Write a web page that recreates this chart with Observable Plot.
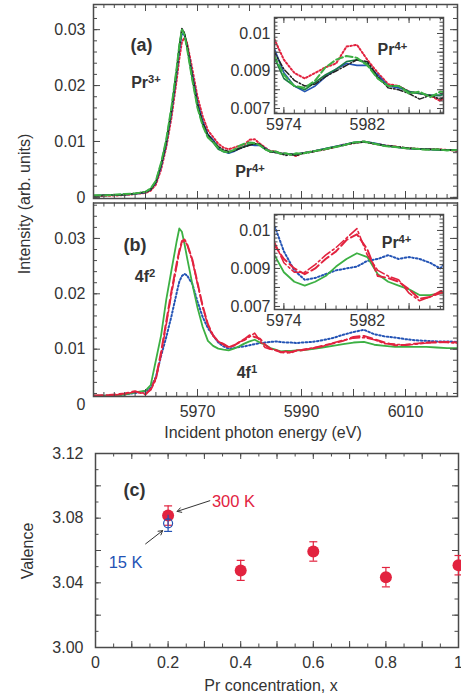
<!DOCTYPE html>
<html><head><meta charset="utf-8">
<script src="https://cdn.jsdelivr.net/npm/d3@7"></script>
<script src="https://cdn.jsdelivr.net/npm/@observablehq/plot@0.6"></script>
<style>
body{margin:0;background:#fff;}
#fig{position:relative;width:461px;height:698px;overflow:hidden;font-family:"Liberation Sans",Arial,Helvetica,sans-serif;color:#333;background:#fff;}
#fig svg{position:absolute;overflow:visible;}
.ttl{position:absolute;font-size:16px;line-height:1;color:#333;white-space:nowrap;transform:translate(-50%,-50%);}
.rot{transform:translate(-50%,-50%) rotate(-90deg);}
</style></head><body><div id="fig"></div><script>
// ================= DATA =================
const energy = [5950,5953,5956,5958,5960,5961,5962,5963,5964,5965,5966,5966.5,5967,5967.5,5968,5969,5970,5971,5972,
  5973,5974,5975,5976,5977,5978,5979,5980,5981,5982,5983,5984,5985,5986,5987,5988,5989,
  5990,5992,5994,5996,5998,6000,6002,6004,6006,6008,6010,6012,6014,6016,6018,6020];

// panel (a)
const aBlack = [0.0003,0.0004,0.0005,0.0007,0.0009,0.0014,0.0027,0.0057,0.0098,0.0155,0.0226,0.0268,0.0302,0.0294,0.0272,0.0218,0.0167,0.0134,0.0112,
  0.0101,0.0091,0.0085,0.0082,0.0083,0.0087,0.0090,0.0093,0.0096,0.0095,0.0087,0.0081,0.0080,0.0078,0.0075,0.0077,0.0075,
  0.0078,0.0081,0.0085,0.0089,0.0093,0.0097,0.0099,0.0096,0.0093,0.0091,0.0089,0.0087,0.0086,0.0086,0.0085,0.0084];
const aBlue = [0.0003,0.0004,0.0005,0.0006,0.0009,0.0014,0.0026,0.0055,0.0096,0.0152,0.0222,0.0262,0.0293,0.0290,0.0271,0.0220,0.0170,0.0136,0.0113,
  0.0103,0.0089,0.0082,0.0079,0.0082,0.0087,0.0091,0.0094,0.0093,0.0093,0.0088,0.0082,0.0081,0.0079,0.0078,0.0077,0.0077,
  0.0079,0.0082,0.0086,0.0090,0.0094,0.0098,0.0100,0.0097,0.0093,0.0090,0.0088,0.0086,0.0086,0.0085,0.0085,0.0084];
const aGreenDash = [0.0004,0.0004,0.0006,0.0007,0.0010,0.0016,0.0030,0.0062,0.0104,0.0162,0.0232,0.0272,0.0300,0.0291,0.0266,0.0210,0.0160,0.0128,0.0107,
  0.0099,0.0088,0.0082,0.0081,0.0085,0.0092,0.0096,0.0098,0.0097,0.0093,0.0086,0.0082,0.0082,0.0078,0.0079,0.0076,0.0079,
  0.0078,0.0082,0.0085,0.0089,0.0093,0.0098,0.0100,0.0096,0.0092,0.0090,0.0088,0.0087,0.0085,0.0086,0.0084,0.0085];
const aDarkGreen = [0.0003,0.0004,0.0005,0.0007,0.0010,0.0015,0.0029,0.0060,0.0102,0.0160,0.0230,0.0271,0.0301,0.0293,0.0268,0.0212,0.0162,0.0130,0.0108,
  0.0098,0.0086,0.0082,0.0080,0.0084,0.0088,0.0091,0.0095,0.0096,0.0094,0.0086,0.0082,0.0082,0.0079,0.0078,0.0077,0.0077,
  0.0079,0.0082,0.0086,0.0090,0.0093,0.0098,0.0100,0.0096,0.0092,0.0090,0.0088,0.0087,0.0086,0.0085,0.0085,0.0084];
const aRed = [0.0002,0.0003,0.0004,0.0006,0.0008,0.0012,0.0023,0.0050,0.0090,0.0143,0.0210,0.0248,0.0278,0.0286,0.0276,0.0230,0.0180,0.0145,0.0120,
  0.0108,0.0096,0.0089,0.0086,0.0089,0.0092,0.0094,0.0103,0.0104,0.0096,0.0089,0.0083,0.0082,0.0079,0.0078,0.0077,0.0074,
  0.0079,0.0082,0.0085,0.0089,0.0094,0.0097,0.0100,0.0096,0.0093,0.0091,0.0088,0.0087,0.0086,0.0086,0.0085,0.0083];

// panel (b)
const bGreen = [0.0016,0.0016,0.0018,0.0022,0.0025,0.0035,0.0080,0.0125,0.0190,0.0243,0.0295,0.0318,0.0312,0.0290,0.0265,0.0218,0.0175,0.0140,0.0115,
  0.0106,0.0101,0.0099,0.0098,0.0101,0.0105,0.0110,0.0114,0.0117,0.0112,0.0108,0.0102,0.0099,0.0096,0.0097,0.0097,0.0098,
  0.0098,0.0100,0.0103,0.0106,0.0109,0.0112,0.0113,0.0108,0.0106,0.0104,0.0104,0.0104,0.0104,0.0103,0.0102,0.0102];
const bRedDash = [0.0016,0.0017,0.0020,0.0024,0.0018,0.0028,0.0048,0.0095,0.0150,0.0205,0.0255,0.0278,0.0295,0.0298,0.0290,0.0262,0.0220,0.0178,0.0145,
  0.0125,0.0114,0.0108,0.0103,0.0107,0.0112,0.0118,0.0125,0.0122,0.0119,0.0108,0.0101,0.0098,0.0095,0.0093,0.0095,0.0097,
  0.0098,0.0101,0.0106,0.0110,0.0115,0.0122,0.0124,0.0118,0.0112,0.0107,0.0108,0.0110,0.0112,0.0112,0.0113,0.0112];
const bRedDashDot = [0.0016,0.0016,0.0019,0.0023,0.0020,0.0026,0.0045,0.0090,0.0145,0.0200,0.0250,0.0275,0.0292,0.0296,0.0289,0.0260,0.0218,0.0176,0.0143,
  0.0124,0.0114,0.0110,0.0104,0.0106,0.0113,0.0116,0.0122,0.0129,0.0115,0.0103,0.0100,0.0099,0.0094,0.0096,0.0093,0.0098,
  0.0099,0.0102,0.0105,0.0111,0.0116,0.0120,0.0121,0.0117,0.0110,0.0109,0.0107,0.0109,0.0111,0.0113,0.0112,0.0111];
const bBlue = [0.0016,0.0016,0.0018,0.0021,0.0024,0.0030,0.0050,0.0088,0.0122,0.0160,0.0202,0.0222,0.0232,0.0236,0.0233,0.0218,0.0186,0.0158,0.0138,
  0.0125,0.0112,0.0105,0.0101,0.0102,0.0104,0.0105,0.0107,0.0109,0.0111,0.0112,0.0113,0.0114,0.0113,0.0112,0.0112,0.0111,
  0.0112,0.0113,0.0116,0.0120,0.0126,0.0131,0.0135,0.0127,0.0123,0.0121,0.0118,0.0116,0.0115,0.0114,0.0114,0.0113];

// inset of (b), read on the inset's own axis
const insetEnergyB = [5973,5974,5975,5976,5977,5978,5979,5980,5981,5982,5983,5984,5985,5986,5987,5988,5989,5990];
const ibBlue = [0.0114,0.0099,0.0089,0.0084,0.0085,0.0087,0.0089,0.0090,0.0091,0.0094,0.0095,0.0097,0.0095,0.0096,0.0095,0.0093,0.0090,0.0097];
const ibGreen = [0.0098,0.0088,0.0083,0.0081,0.0083,0.0086,0.0091,0.0095,0.0098,0.0096,0.0087,0.0083,0.0081,0.0079,0.0076,0.0076,0.0077,0.0077];
const ibRedDash = [0.0103,0.0095,0.0090,0.0087,0.0090,0.0095,0.0099,0.0105,0.0108,0.0100,0.0086,0.0085,0.0083,0.0079,0.0074,0.0075,0.0078,0.0079];
const ibRedDashDot = [0.0105,0.0093,0.0088,0.0088,0.0092,0.0097,0.0101,0.0106,0.0111,0.0097,0.0089,0.0086,0.0084,0.0077,0.0073,0.0075,0.0077,0.0078];

// panel (c)
const concentration = [0.2, 0.4, 0.6, 0.8, 1.0];
const valence300K = [3.0816, 3.0477, 3.0594, 3.0435, 3.0509];
const err300K = [0.006, 0.0062, 0.006, 0.006, 0.006];
const conc15K = [0.2];
const valence15K = [3.0768];
const err15K = [0.005];

// tick labels
const mainYTicks = [0, 0.01, 0.02, 0.03];
const mainYTickText = ["0", "0.01", "0.02", "0.03"];
const mainXTicks = [5970, 5990, 6010];
const insetXTicks = [5974, 5982];
const insetYTicks = [0.007, 0.009, 0.011];
const insetYTickText = ["0.007", "0.009", "0.01"];
const cXTicks = [0, 0.2, 0.4, 0.6, 0.8, 1];
const cXTickText = ["0", "0.2", "0.4", "0.6", "0.8", "1"];
const cYTicks = [3.00, 3.04, 3.08, 3.12];
const cYTickText = ["3.00", "3.04", "3.08", "3.12"];

// annotations
const aNoteText = ["Pr^3+", "Pr^4+"], aNoteE = [5960.1, 5980.1], aNoteV = [0.0205, 0.0045];
const aInsetNoteText = ["Pr^4+"], aInsetNoteE = [5984.4], aInsetNoteV = [0.0101];
const bNoteText = ["4f^2", "4f^1"], bNoteE = [5959.9, 5979.5], bNoteV = [0.0230, 0.0058];
const bInsetNoteText = ["Pr^4+"], bInsetNoteE = [5984.8], bInsetNoteV = [0.01037];
const cNoteText = ["300 K", "15 K"], cNoteX = [0.38, 0.083], cNoteV = [3.0902, 3.0523];
const cArrowX1 = [0.315, 0.138], cArrowV1 = [3.0908, 3.0641], cArrowX2 = [0.225, 0.185], cArrowV2 = [3.0842, 3.0723];

// ================= STYLE =================
const FONT = '"Liberation Sans", Arial, Helvetica, sans-serif';
const INK = "#333";
const FRAMEC = "#4a4a4a";
const RED = "#e2233f", BLUE = "#2353b5", GREEN = "#3cb043", DKGREEN = "#1d7f45", BLACK = "#222";

const fig = document.getElementById("fig");
const rows = (xs, ys) => xs.map((x, i) => ({x, y: ys[i]}));
const lookup = (vals, txt) => { const m = new Map(vals.map((d, i) => [d, txt[i]])); return d => m.get(d); };
const notes = (t, xs, ys) => t.map((s, i) => ({t: s, x: xs[i], y: ys[i]}));

function frameTicks(W, H, xMaj, xMin, yMaj, yMin, maj, min) {
  const st = {stroke: FRAMEC, strokeWidth: 1};
  return [
    Plot.tickX(xMin, {...st, insetTop: H - min}), Plot.tickX(xMin, {...st, insetBottom: H - min}),
    Plot.tickX(xMaj, {...st, insetTop: H - maj}), Plot.tickX(xMaj, {...st, insetBottom: H - maj}),
    Plot.tickY(yMin, {...st, insetRight: W - min}), Plot.tickY(yMin, {...st, insetLeft: W - min}),
    Plot.tickY(yMaj, {...st, insetRight: W - maj}), Plot.tickY(yMaj, {...st, insetLeft: W - maj}),
  ];
}
function supify(svg) {
  d3.select(svg).selectAll("text").each(function () {
    const m = this.textContent.match(/^(.*)\^(.*)$/);
    if (!m) return;
    const s = d3.select(this); s.text(null);
    s.append("tspan").text(m[1]);
    s.append("tspan").attr("dy", "-0.45em").attr("font-size", "0.7em").text(m[2]);
  });
}
function place(svg, left, top) { svg.style.left = left + "px"; svg.style.top = top + "px"; supify(svg); fig.appendChild(svg); }
const baseStyle = {fontFamily: FONT, fontSize: "16px", color: INK, background: "transparent", overflow: "visible"};
const inRange = (a, lo, hi) => a.filter(d => d >= lo - 1e-9 && d <= hi + 1e-9);

const seriesA = [
  {v: aRed, stroke: RED, dash: "1.6,2.2", w: 2},
  {v: aBlue, stroke: BLUE, dash: undefined, w: 1.6},
  {v: aDarkGreen, stroke: DKGREEN, dash: undefined, w: 1.6},
  {v: aBlack, stroke: BLACK, dash: "6,2,1.5,2", w: 1.5},
  {v: aGreenDash, stroke: GREEN, dash: "7,3", w: 2}
];
const seriesB = [
  {v: bBlue, iv: ibBlue, stroke: BLUE, dash: "1.6,2.2", w: 2},
  {v: bGreen, iv: ibGreen, stroke: GREEN, dash: undefined, w: 1.8},
  {v: bRedDashDot, iv: ibRedDashDot, stroke: RED, dash: "10,3,2,3", w: 1.6},
  {v: bRedDash, iv: ibRedDash, stroke: RED, dash: "9,4", w: 2}
];

// ================= MAIN (a) =================
{
  const W = 364, H = 194, xd = [5950, 6020], yd = [-0.0002, 0.0345];
  const svg = Plot.plot({
    width: 461, height: 200, marginLeft: 93, marginRight: 4, marginTop: 4, marginBottom: 2,
    x: {domain: xd, axis: null}, y: {domain: yd},
    style: baseStyle,
    marks: [
      ...seriesA.map(s => Plot.line(rows(energy, s.v), {x: "x", y: "y", stroke: s.stroke, strokeWidth: s.w, strokeDasharray: s.dash, clip: true})),
      ...frameTicks(W, H, d3.range(5950, 6021, 10), d3.range(5950, 6021, 2), mainYTicks, inRange(d3.range(0, 0.0345, 0.002), ...yd), 7, 4),
      Plot.frame({stroke: FRAMEC, strokeWidth: 1.5}),
      Plot.axisY(mainYTicks, {tickSize: 0, tickPadding: 8, tickFormat: lookup(mainYTicks, mainYTickText), label: null}),
      Plot.text(notes(aNoteText, aNoteE, aNoteV), {x: "x", y: "y", text: "t", fontWeight: "bold", fontSize: 16, fill: INK}),
      Plot.text(["(a)"], {frameAnchor: "top-left", dx: 37, dy: 34, fontWeight: "bold", fontSize: 18, fill: INK})
    ]
  });
  place(svg, 0, 0);
}
// ================= INSET (a) =================
{
  const W = 169, H = 96, xd = [5973.1, 5989.3], yd = [0.006733, 0.011853];
  const svg = Plot.plot({
    width: 225, height: 122, marginLeft: 49, marginRight: 7, marginTop: 2, marginBottom: 24,
    x: {domain: xd}, y: {domain: yd},
    style: baseStyle,
    marks: [
      Plot.frame({fill: "white"}),
      ...seriesA.map(s => Plot.line(rows(energy, s.v).filter(d => d.x >= 5972 && d.x <= 5991), {x: "x", y: "y", stroke: s.stroke, strokeWidth: s.w, strokeDasharray: s.dash, clip: true})),
      ...frameTicks(W, H, [5974, 5978, 5982, 5986], inRange(d3.range(5973, 5990, 1), ...xd), inRange(d3.range(0.007, 0.0119, 0.001), ...yd), inRange(d3.range(0.0068, 0.0119, 0.0002), ...yd), 6, 3.5),
      Plot.frame({stroke: FRAMEC, strokeWidth: 1.5}),
      Plot.axisY(insetYTicks, {tickSize: 0, tickPadding: 4, tickFormat: lookup(insetYTicks, insetYTickText), label: null}),
      Plot.axisX(insetXTicks, {tickSize: 0, tickPadding: 5, tickFormat: d => String(d), label: null}),
      Plot.text(notes(aInsetNoteText, aInsetNoteE, aInsetNoteV), {x: "x", y: "y", text: "t", fontWeight: "bold", fontSize: 16, fill: INK})
    ]
  });
  place(svg, 225, 15);
}
// ================= MAIN (b) =================
{
  const W = 364, H = 193.5, xd = [5950, 6020], yd = [0.00145, 0.0364];
  const svg = Plot.plot({
    width: 461, height: 250, marginLeft: 93, marginRight: 4, marginTop: 2.5, marginBottom: 54,
    x: {domain: xd}, y: {domain: yd},
    style: baseStyle,
    marks: [
      ...seriesB.map(s => Plot.line(rows(energy, s.v), {x: "x", y: "y", stroke: s.stroke, strokeWidth: s.w, strokeDasharray: s.dash, clip: true})),
      ...frameTicks(W, H, d3.range(5950, 6021, 10), d3.range(5950, 6021, 2), inRange(mainYTicks, ...yd), inRange(d3.range(0, 0.0365, 0.002), ...yd), 7, 4),
      Plot.frame({stroke: FRAMEC, strokeWidth: 1.5}),
      Plot.axisY(mainYTicks, {tickSize: 0, tickPadding: 8, tickFormat: lookup(mainYTicks, mainYTickText), label: null}),
      Plot.axisX(mainXTicks, {tickSize: 0, tickPadding: 9, tickFormat: d => String(d), label: null}),
      Plot.text(notes(bNoteText, bNoteE, bNoteV), {x: "x", y: "y", text: "t", fontWeight: "bold", fontSize: 16, fill: INK}),
      Plot.text(["(b)"], {frameAnchor: "top-left", dx: 30, dy: 35, fontWeight: "bold", fontSize: 18, fill: INK})
    ]
  });
  place(svg, 0, 200);
}
// ================= INSET (b) =================
{
  const W = 169, H = 95, xd = [5973.1, 5989.3], yd = [0.00684, 0.01184];
  const svg = Plot.plot({
    width: 225, height: 122, marginLeft: 49, marginRight: 7, marginTop: 2, marginBottom: 25,
    x: {domain: xd}, y: {domain: yd},
    style: baseStyle,
    marks: [
      Plot.frame({fill: "white"}),
      ...seriesB.map(s => Plot.line(rows(insetEnergyB, s.iv), {x: "x", y: "y", stroke: s.stroke, strokeWidth: s.w, strokeDasharray: s.dash, clip: true})),
      ...frameTicks(W, H, [5974, 5978, 5982, 5986], inRange(d3.range(5973, 5990, 1), ...xd), inRange(d3.range(0.007, 0.0119, 0.001), ...yd), inRange(d3.range(0.0068, 0.0119, 0.0002), ...yd), 6, 3.5),
      Plot.frame({stroke: FRAMEC, strokeWidth: 1.5}),
      Plot.axisY(insetYTicks, {tickSize: 0, tickPadding: 4, tickFormat: lookup(insetYTicks, insetYTickText), label: null}),
      Plot.axisX(insetXTicks, {tickSize: 0, tickPadding: 5, tickFormat: d => String(d), label: null}),
      Plot.text(notes(bInsetNoteText, bInsetNoteE, bInsetNoteV), {x: "x", y: "y", text: "t", fontWeight: "bold", fontSize: 16, fill: INK})
    ]
  });
  place(svg, 225, 212);
}
// ================= PANEL (c) =================
{
  const W = 363, H = 194, xd = [0, 1], yd = [3.00, 3.12];
  const pts = concentration.map((x, i) => ({x, y: valence300K[i], lo: valence300K[i] - err300K[i], hi: valence300K[i] + err300K[i]}));
  const pts15 = conc15K.map((x, i) => ({x, y: valence15K[i], lo: valence15K[i] - err15K[i], hi: valence15K[i] + err15K[i]}));
  const cap = {draw(ctx, size) { const r = Math.sqrt(size / Math.PI); ctx.moveTo(-r, 0); ctx.lineTo(r, 0); }};
  const arrows = cArrowX1.map((x, i) => ({x1: x, y1: cArrowV1[i], x2: cArrowX2[i], y2: cArrowV2[i]}));
  const svg = Plot.plot({
    width: 461, height: 258, marginLeft: 95, marginRight: 3, marginTop: 13, marginBottom: 51,
    x: {domain: xd}, y: {domain: yd},
    style: baseStyle,
    marks: [
      ...frameTicks(W, H, d3.range(0, 1.001, 0.1).map(d => +d.toFixed(2)), d3.range(0, 1.001, 0.05).map(d => +d.toFixed(2)), d3.range(3.0, 3.121, 0.02).map(d => +d.toFixed(2)), d3.range(3.0, 3.121, 0.01).map(d => +d.toFixed(2)), 6, 3.5),
      Plot.frame({stroke: FRAMEC, strokeWidth: 1.5}),
      Plot.ruleX(pts, {x: "x", y1: "lo", y2: "hi", stroke: RED, strokeWidth: 1.2}),
      Plot.dot(pts, {x: "x", y: "lo", symbol: cap, r: 4, stroke: RED, strokeWidth: 1.2}),
      Plot.dot(pts, {x: "x", y: "hi", symbol: cap, r: 4, stroke: RED, strokeWidth: 1.2}),
      Plot.dot(pts, {x: "x", y: "y", r: 6, fill: RED}),
      Plot.ruleX(pts15, {x: "x", y1: "lo", y2: "hi", stroke: BLUE, strokeWidth: 1.2}),
      Plot.dot(pts15, {x: "x", y: "lo", symbol: cap, r: 4, stroke: BLUE, strokeWidth: 1.2}),
      Plot.dot(pts15, {x: "x", y: "y", r: 4.5, stroke: BLUE, fill: "none", strokeWidth: 1.2}),
      Plot.arrow(arrows, {x1: "x1", y1: "y1", x2: "x2", y2: "y2", stroke: INK, strokeWidth: 1, headLength: 7}),
      Plot.text(notes(cNoteText, cNoteX, cNoteV), {x: "x", y: "y", text: "t", fontSize: 16.5, fill: (d, i) => i === 0 ? RED : BLUE}),
      Plot.axisY(cYTicks, {tickSize: 0, tickPadding: 12, tickFormat: lookup(cYTicks, cYTickText), label: null}),
      Plot.axisX(cXTicks, {tickSize: 0, tickPadding: 9, tickFormat: lookup(cXTicks, cXTickText), label: null}),
      Plot.text(["(c)"], {frameAnchor: "top-left", dx: 28, dy: 30, fontWeight: "bold", fontSize: 18, fill: INK})
    ]
  });
  place(svg, 0, 440);
}
// ================= AXIS TITLES =================
function title(text, x, y, rot) {
  const d = document.createElement("div");
  d.className = "ttl" + (rot ? " rot" : "");
  d.textContent = text; d.style.left = x + "px"; d.style.top = y + "px";
  fig.appendChild(d);
}
title("Intensity (arb. units)", 25, 204, true);
title("Incident photon energy (eV)", 263, 433, false);
title("Valence", 28, 551, true);
title("Pr concentration, x", 271, 686, false);
</script></body></html>
